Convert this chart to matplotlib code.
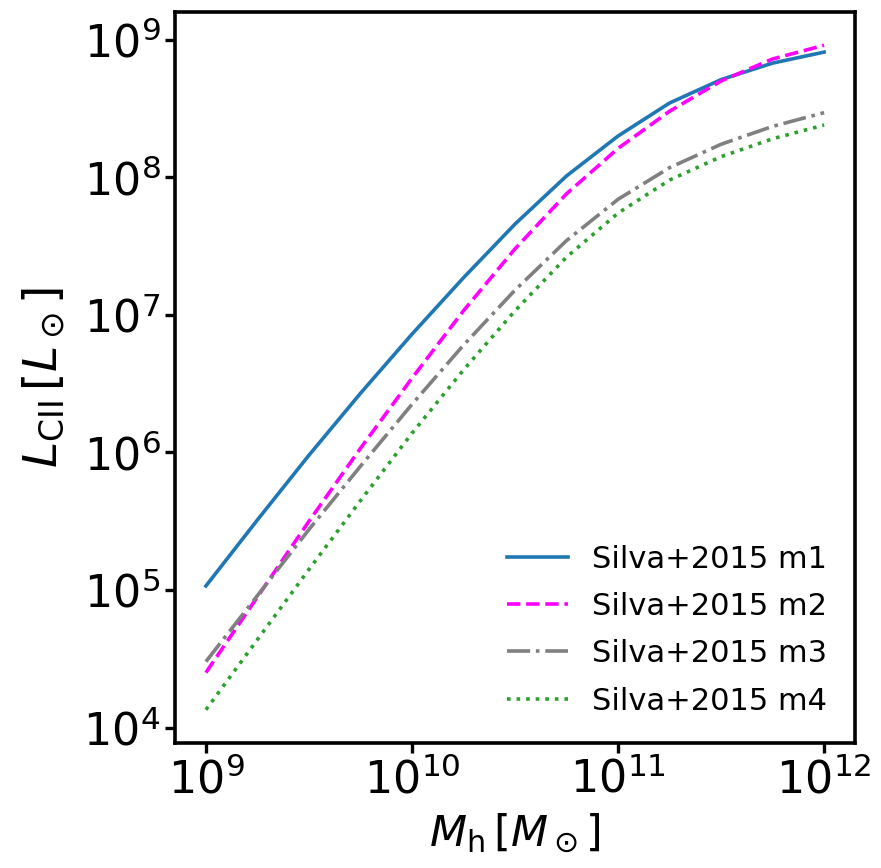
import numpy as np
import matplotlib
matplotlib.use("Agg")
import matplotlib.pyplot as plt

# halo mass grid, log10(M_h / M_sun)
log_mh = [9.0, 9.25, 9.5, 9.75, 10.0, 10.25, 10.5, 10.75, 11.0, 11.25, 11.5, 11.75, 12.0]

# log10(L_CII / L_sun) for the four Silva+2015 models
log_l_m1 = [5.03, 5.51, 5.98, 6.43, 6.86, 7.27, 7.66, 8.01, 8.30, 8.54, 8.71, 8.83, 8.91]
log_l_m2 = [4.40, 4.95, 5.50, 6.03, 6.54, 7.03, 7.48, 7.88, 8.21, 8.48, 8.70, 8.86, 8.96]
log_l_m3 = [4.48, 4.96, 5.44, 5.90, 6.35, 6.78, 7.18, 7.54, 7.84, 8.07, 8.24, 8.37, 8.47]
log_l_m4 = [4.13, 4.64, 5.15, 5.65, 6.14, 6.60, 7.03, 7.42, 7.74, 7.98, 8.15, 8.28, 8.38]

labels = ["Silva+2015 m1", "Silva+2015 m2", "Silva+2015 m3", "Silva+2015 m4"]
colors = ["#1f77b4", "magenta", "gray", "#2ca02c"]
styles = ["-", "--", "-.", ":"]

mh = 10 ** np.array(log_mh)
models = [log_l_m1, log_l_m2, log_l_m3, log_l_m4]

fig = plt.figure(figsize=(8.81, 8.68), dpi=100)
ax = fig.add_axes([175 / 881, 1 - 743 / 868, 680 / 881, 731 / 868])

for lum, lab, c, ls in zip(models, labels, colors, styles):
    ax.plot(mh, 10 ** np.array(lum), ls=ls, color=c, lw=2.6, label=lab)

ax.set_xscale("log")
ax.set_yscale("log")
ax.minorticks_off()
ax.set_xticks([1e9, 1e10, 1e11, 1e12])
ax.set_yticks([1e4, 1e5, 1e6, 1e7, 1e8, 1e9])

ax.tick_params(which="major", labelsize=32, length=7, width=2.4)
for sp in ax.spines.values():
    sp.set_linewidth(2.6)

ax.set_xlabel(r"$M_{\rm h}\,[M_\odot]$", fontsize=31, labelpad=7)
ax.set_ylabel(r"$L_{\rm CII}\,[L_\odot]$", fontsize=34, labelpad=12)

ax.legend(loc="lower right", frameon=False, fontsize=22, labelspacing=0.6)

fig.savefig("out.png", dpi=100)
